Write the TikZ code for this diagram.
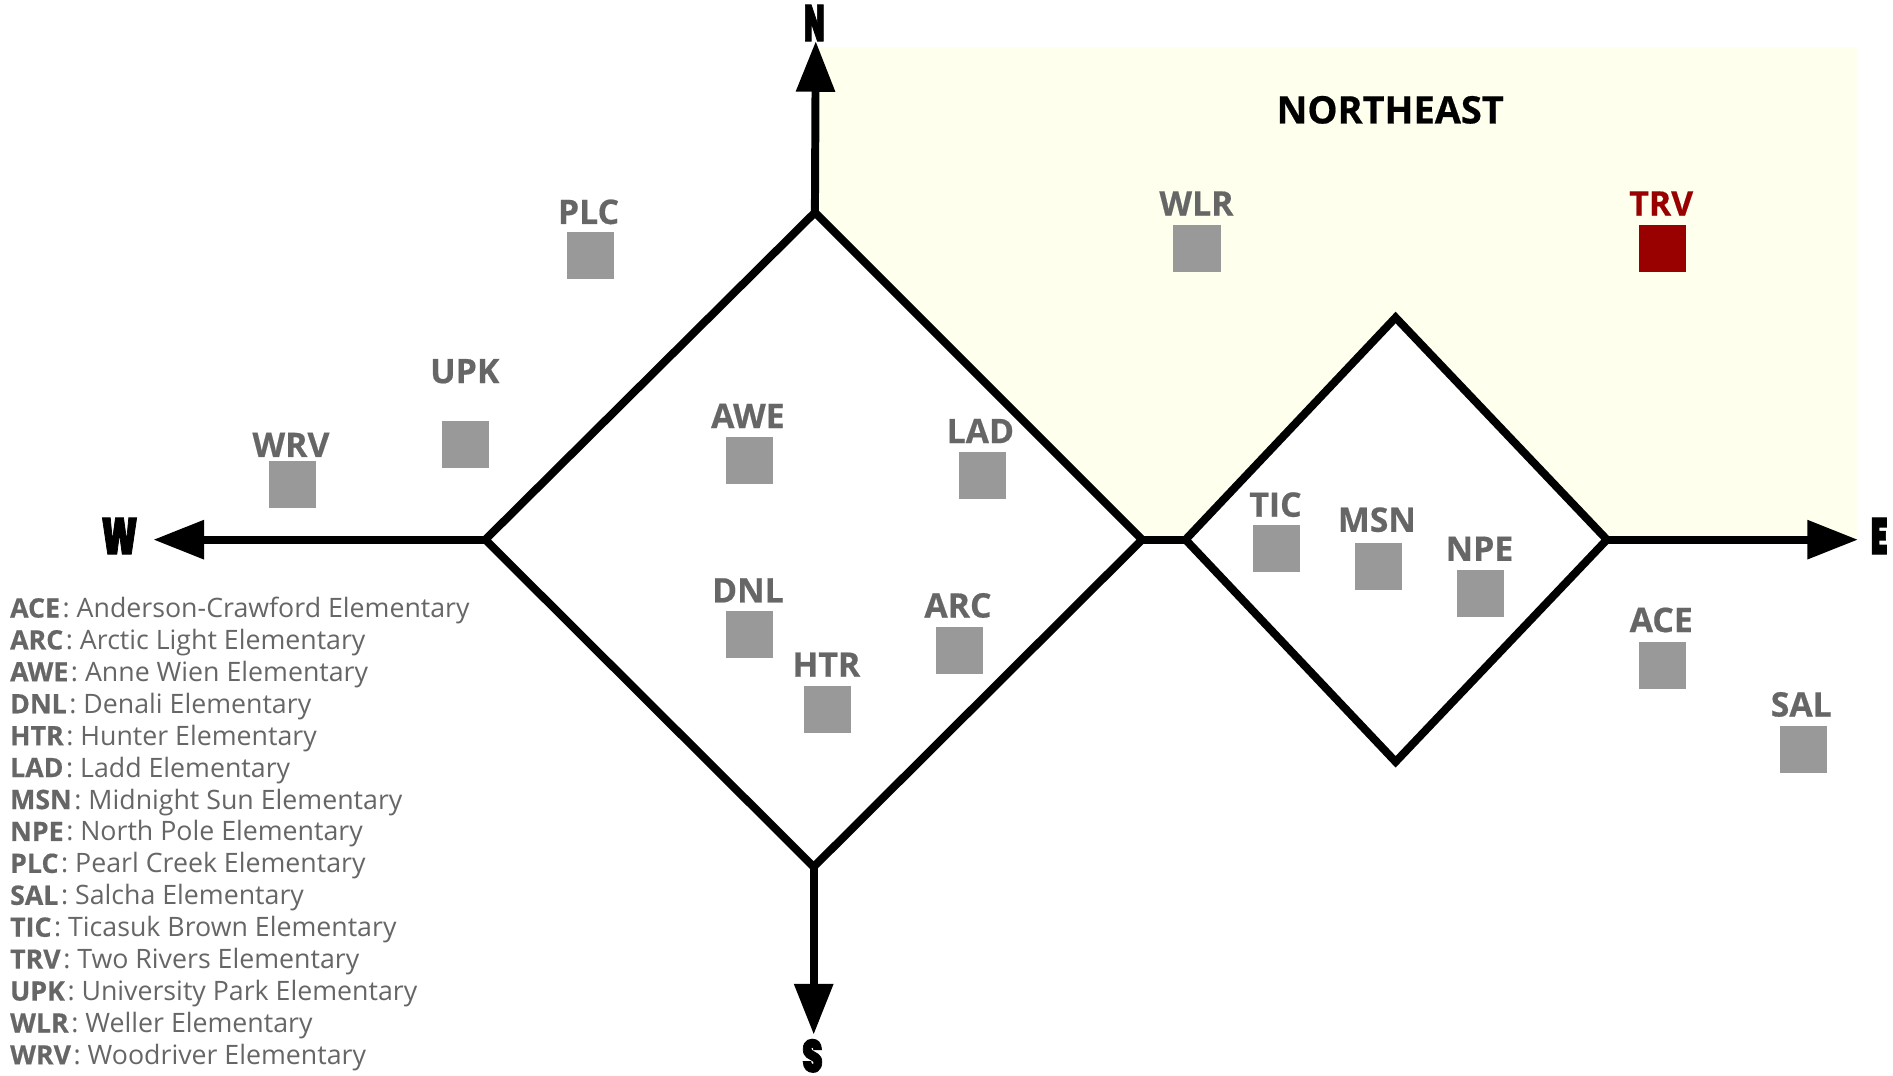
\documentclass[tikz,border=0pt]{standalone}
\usepackage{fontspec}
\usepackage{graphicx}
\setmainfont{Open Sans}[BoldFeatures={FakeBold=0.5}]
\newfontfamily\heavyfont{Poppins Black}[FakeBold=2.2]
\usetikzlibrary{arrows.meta}
\definecolor{labelgray}{HTML}{666666}
\definecolor{boxgray}{HTML}{999999}
\definecolor{darkred}{HTML}{990000}
\definecolor{paleyellow}{HTML}{FFFFEE}
\tikzset{
  axisline/.style={line width=3.3pt,draw=black,-{Triangle[length=21pt,width=15.5pt]}},
  boxline/.style={line width=3.3pt,draw=black,fill=white,miter limit=10},
  school/.style={minimum size=19.5pt,inner sep=0pt,outer sep=0pt,fill=boxgray},
  schoolred/.style={school,fill=darkred},
  codelabel/.style={inner sep=0pt,font=\fontsize{14}{14}\selectfont\bfseries,text=labelgray},
  codelabelred/.style={codelabel,text=darkred},
  legendline/.style={inner sep=0pt,anchor=base west,font=\fontsize{11.07}{12}\selectfont,text=labelgray},
  compass/.style={inner sep=0pt,font=\heavyfont}
}
\begin{document}
\begin{tikzpicture}[x=0.5pt,y=-0.5pt]
\useasboundingbox (0,0) rectangle (1568,891);
\fill[paleyellow] (675,39) rectangle (1538,447);
% main diamond corners
\coordinate (mT) at (675,176);
\coordinate (mL) at (402,447);
\coordinate (mB) at (674,718);
\coordinate (mR) at (946,447);
% small diamond corners
\coordinate (sT) at (1156,263);
\coordinate (sL) at (982,447);
\coordinate (sB) at (1156,631);
\coordinate (sR) at (1331,447);
% compass tips
\coordinate (tipN) at (675.7,34);
\coordinate (tipS) at (674,857);
\coordinate (tipW) at (127,447);
\coordinate (tipE) at (1539,447);
\draw[axisline] (mT) -- (tipN);
\draw[axisline] (mB) -- (tipS);
\draw[axisline] (mL) -- (tipW);
\draw[axisline] (sR) -- (tipE);
\draw[boxline] (mT) -- (mR) -- (mB) -- (mL) -- cycle;
\draw[boxline] (sT) -- (sR) -- (sB) -- (sL) -- cycle;
\draw[line width=3.3pt] (mR) -- (sL);
\node[compass] (N) at (674.5,19) {\resizebox{8.5pt}{15pt}{N}};
\node[compass] (S) at (673,874.5) {\resizebox{8.5pt}{13.6pt}{S}};
\node[compass] (W) at (99,444) {\resizebox{15pt}{15pt}{W}};
\node[compass] (E) at (1556.5,444) {\resizebox{7pt}{15pt}{E}};
\node[inner sep=0pt,font=\fontsize{15.7}{16}\selectfont\bfseries] (NE) at (1151.5,91) {NORTHEAST};
\foreach \c/\sx/\sy/\lx/\ly in {PLC/489/211.5/487.5/175.5,WLR/991.5/205.5/991/168.5,UPK/385.5/368.5/385/307.5,WRV/242.5/401.5/241/368.5,AWE/620.5/381.5/619.5/344.5,LAD/813.5/393.5/812/357,TIC/1057.5/454.5/1056.5/418,MSN/1141.5/469.5/1140.5/430.5,NPE/1226.5/491.5/1225.5/454.5,DNL/620.5/525.5/619.5/489,ARC/794.5/538.5/793.5/501.5,HTR/685.5/587.5/684.5/550.5,ACE/1377/551/1376/513.5,SAL/1493.5/620.5/1492/583.5}{
  \node[school] (box\c) at (\sx,\sy) {};
  \node[codelabel] (lab\c) at (\lx,\ly) {\c};
}
\node[schoolred] (boxTRV) at (1377,205.5) {};
\node[codelabelred] (labTRV) at (1376,168.5) {TRV};
\foreach \i/\c/\n in {0/ACE/Anderson-Crawford Elementary,1/ARC/Arctic Light Elementary,2/AWE/Anne Wien Elementary,3/DNL/Denali Elementary,4/HTR/Hunter Elementary,5/LAD/Ladd Elementary,6/MSN/Midnight Sun Elementary,7/NPE/North Pole Elementary,8/PLC/Pearl Creek Elementary,9/SAL/Salcha Elementary,10/TIC/Ticasuk Brown Elementary,11/TRV/Two Rivers Elementary,12/UPK/University Park Elementary,13/WLR/Weller Elementary,14/WRV/Woodriver Elementary}{
  \node[legendline] (leg\c) at (8,{511.5+26.44*\i}) {\textbf{\c}\kern1.1pt: \n};
}
\end{tikzpicture}
\end{document}
